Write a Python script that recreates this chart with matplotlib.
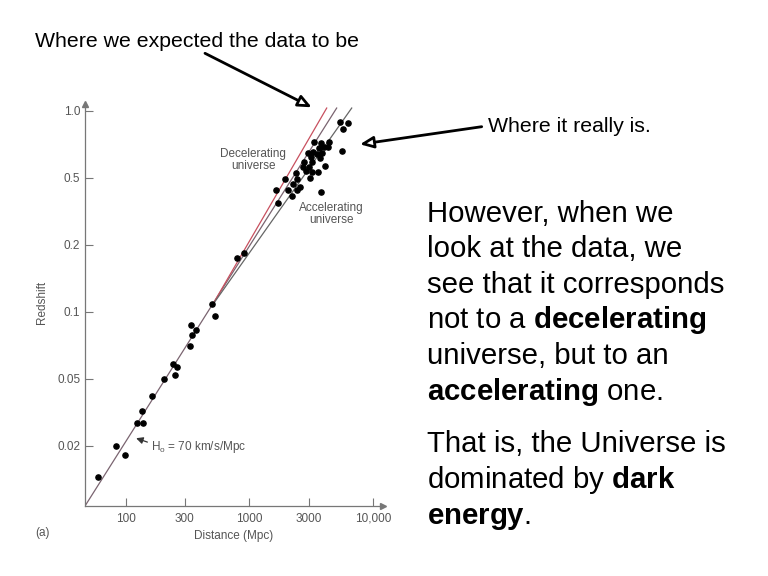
import numpy as np
import matplotlib
matplotlib.use("Agg")
import matplotlib.pyplot as plt
from matplotlib.ticker import FixedLocator, FixedFormatter, NullLocator

plt.rcParams['font.family'] = ['Liberation Sans', 'DejaVu Sans']
plt.rcParams['mathtext.fontset'] = 'custom'
plt.rcParams['mathtext.rm'] = 'Liberation Sans'
plt.rcParams['mathtext.bf'] = 'Liberation Sans:bold'
plt.rcParams['mathtext.it'] = 'Liberation Sans:italic'

# observed galaxies / supernovae (distance in Mpc, redshift)
distance = [60, 83, 99, 123, 137, 135, 162, 204, 240, 258, 252, 329, 341, 335,
            367, 495, 526, 788, 903, 1710, 1629, 1946, 2193,
            5383, 6281, 5728, 5559, 3781, 3336, 4413, 4335, 3999, 3664, 3273,
            3828, 2985, 3490, 3119, 3707, 2773, 3214, 4074, 2692, 3041, 2858,
            3178, 2377, 3597, 3082, 2432, 2259, 2558, 2056, 2405, 3758]
redshift = [0.013, 0.020, 0.0176, 0.0274, 0.0272, 0.0323, 0.0395, 0.0496,
            0.0586, 0.0566, 0.0518, 0.0706, 0.0787, 0.0871, 0.0828, 0.108,
            0.0957, 0.175, 0.183, 0.352, 0.423, 0.491, 0.389,
            0.892, 0.883, 0.824, 0.659, 0.718, 0.726, 0.721, 0.685, 0.685,
            0.678, 0.654, 0.648, 0.648, 0.639, 0.621, 0.611, 0.590, 0.590,
            0.565, 0.560, 0.560, 0.537, 0.529, 0.527, 0.532, 0.496, 0.491,
            0.457, 0.441, 0.421, 0.423, 0.413]

# model lines
hubble_dist = [46.9, 5060]
hubble_z = [0.0088, 1.028]
decel_dist = [495, 4204]
decel_z = [0.106, 1.028]
accel_dist = [495, 6693]
accel_z = [0.106, 1.028]

y_ticks = [0.02, 0.05, 0.1, 0.2, 0.5, 1.0]
y_ticklabels = ['0.02', '0.05', '0.1', '0.2', '0.5', '1.0']
x_ticks = [100, 300, 1000, 3000, 10000]
x_ticklabels = ['100', '300', '1000', '3000', '10,000']

# the redshift axis in the figure has evenly spaced ticks
_lz = np.log10(y_ticks)
_ix = np.arange(len(y_ticks), dtype=float)
lo_slope = _lz[1] - _lz[0]
hi_slope = _lz[-1] - _lz[-2]


def z_to_pos(z):
    l = np.log10(np.clip(np.asarray(z, dtype=float), 1e-9, None))
    pos = np.interp(l, _lz, _ix)
    pos = np.where(l < _lz[0], (l - _lz[0]) / lo_slope, pos)
    pos = np.where(l > _lz[-1], _ix[-1] + (l - _lz[-1]) / hi_slope, pos)
    return pos


def pos_to_z(p):
    p = np.asarray(p, dtype=float)
    l = np.interp(p, _ix, _lz)
    l = np.where(p < 0, _lz[0] + p * lo_slope, l)
    l = np.where(p > _ix[-1], _lz[-1] + (p - _ix[-1]) * hi_slope, l)
    return 10 ** l


W, H = 768, 576


def px(x, y):
    return (x / W, 1 - y / H)


fig = plt.figure(figsize=(7.68, 5.76), dpi=100)
ax = fig.add_axes([85 / W, 1 - 506 / H, 298 / W, 402 / H])

axc = '#777777'
txc = '#555555'

ax.set_xscale('log')
ax.set_yscale('function', functions=(z_to_pos, pos_to_z))
ax.set_xlim(46.9, 11980)
ax.set_ylim(0.0088, 1.072)

ax.plot(hubble_dist, hubble_z, color='#7a6470', lw=0.9)
ax.plot(decel_dist, decel_z, color='#c8505f', lw=0.9)
ax.plot(accel_dist, accel_z, color='#666666', lw=0.9)
ax.scatter(distance, redshift, s=14, color='black', zorder=3)

ax.xaxis.set_major_locator(FixedLocator(x_ticks))
ax.xaxis.set_major_formatter(FixedFormatter(x_ticklabels))
ax.xaxis.set_minor_locator(NullLocator())
ax.yaxis.set_major_locator(FixedLocator(y_ticks))
ax.yaxis.set_major_formatter(FixedFormatter(y_ticklabels))
ax.yaxis.set_minor_locator(NullLocator())
ax.tick_params(direction='in', length=6, width=0.8, color=axc,
               labelsize=8.5, labelcolor=txc)
ax.tick_params(axis='x', pad=5)
ax.tick_params(axis='y', pad=3.5)

for side in ['top', 'right']:
    ax.spines[side].set_visible(False)
for side in ['left', 'bottom']:
    ax.spines[side].set_color(axc)
    ax.spines[side].set_linewidth(0.9)
ax.plot(1, 0, '>', color=axc, ms=4, transform=ax.transAxes, clip_on=False)
ax.plot(0, 1, '^', color=axc, ms=4, transform=ax.transAxes, clip_on=False)

ax.set_xlabel('Distance (Mpc)', fontsize=8.5, color=txc, va='center')
ax.xaxis.set_label_coords(0.5, -0.075)
ax.set_ylabel('Redshift', fontsize=8.5, color=txc, va='center', ha='center')
ax.yaxis.set_label_coords(-0.144, 0.507)

fig.text(*px(42.7, 533), '(a)', fontsize=8.5, color=txc, ha='center', va='center')
fig.text(*px(253, 160), 'Decelerating\nuniverse', fontsize=8.5, color=txc,
         ha='center', va='center', linespacing=1.1)
fig.text(*px(331, 214), 'Accelerating\nuniverse', fontsize=8.5, color=txc,
         ha='center', va='center', linespacing=1.1)

# Hubble constant label
fig.text(*px(151, 447), r'H$_\mathrm{o}$ = 70 km/s/Mpc', fontsize=8.5,
         color=txc, ha='left', va='center')
fig.add_artist(matplotlib.patches.FancyArrowPatch(
    px(150, 443), px(133.5, 437.3), transform=fig.transFigure,
    arrowstyle='-|>,head_length=4,head_width=2', color='#333333', lw=0.9))

# slide annotations
open_head = dict(arrowstyle='-|>,head_length=0.8,head_width=0.35',
                 fc='white', ec='black', lw=2, shrinkA=0, shrinkB=0)
fig.text(*px(35, 46.7), 'Where we expected the data to be', fontsize=15.3,
         ha='left', va='baseline')
ax.annotate('', xy=px(311.7, 107.3), xytext=px(205, 53.3),
            xycoords='figure fraction', textcoords='figure fraction',
            arrowprops=open_head)
fig.text(*px(488, 131.7), 'Where it really is.', fontsize=15.3,
         ha='left', va='baseline')
ax.annotate('', xy=px(360, 144.3), xytext=px(481.7, 126.7),
            xycoords='figure fraction', textcoords='figure fraction',
            arrowprops=open_head)

para_lines = [
    (221.7, "However, when we"),
    (257.3, "look at the data, we"),
    (292.9, "see that it corresponds"),
    (328.5, r"not to a $\mathbf{decelerating}$"),
    (364.1, "universe, but to an"),
    (399.7, r"$\mathbf{accelerating}$ one."),
    (451.7, "That is, the Universe is"),
    (488.0, r"dominated by $\mathbf{dark}$"),
    (524.0, r"$\mathbf{energy}$."),
]
for yb, line in para_lines:
    fig.text(*px(427, yb), line, fontsize=21.2, ha='left', va='baseline')

fig.savefig('out.png', dpi=100)
